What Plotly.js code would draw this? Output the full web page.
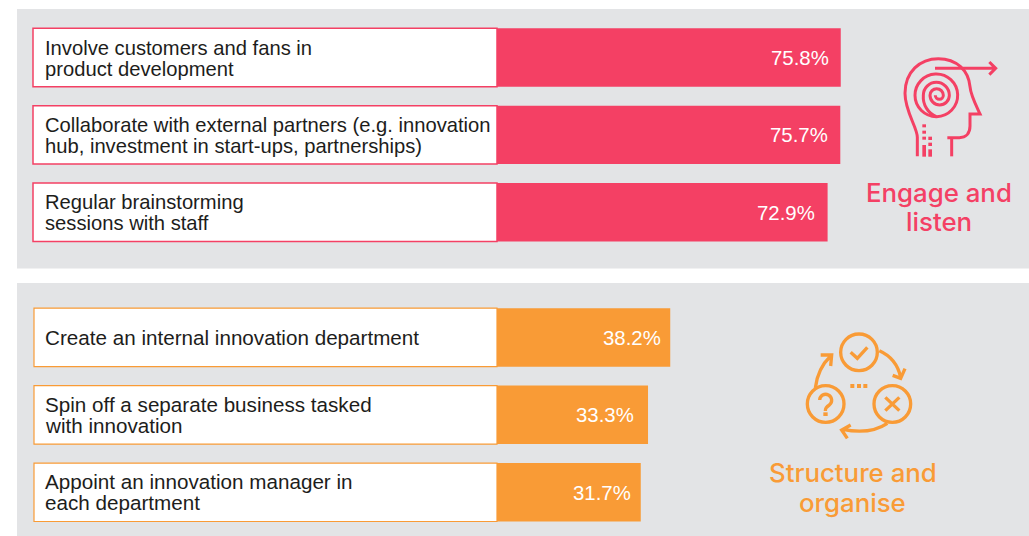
<!DOCTYPE html>
<html>
<head>
<meta charset="utf-8">
<script src="https://cdn.plot.ly/plotly-3.0.1.min.js"></script>
<style>html,body{margin:0;padding:0;background:#fff;overflow:hidden}#chart{width:1029px;height:536px}</style>
</head>
<body>
<div id="chart"></div>
<script>
const engageLabels = [
  ["Involve customers and fans in", "product development"],
  ["Collaborate with external partners (e.g. innovation", "hub, investment in start-ups, partnerships)"],
  ["Regular brainstorming", "sessions with staff"]
];
const engageValues = [75.8, 75.7, 72.9];
const structureLabels = [
  ["Create an internal innovation department"],
  ["Spin off a separate business tasked", "with innovation"],
  ["Appoint an innovation manager in", "each department"]
];
const structureValues = [38.2, 33.3, 31.7];
const engageTitle = ["Engage and", "listen"];
const structureTitle = ["Structure and", "organise"];

const W = 1029, H = 536;
const PINK = "#F44064", ORANGE = "#F99B36", PANEL = "#E3E4E6";
const FONT = "Liberation Sans, Arial, sans-serif";
const pxPerUnit = 4.535, zeroPx = 497;
const xRange = [-zeroPx / pxPerUnit, (W - zeroPx) / pxPerUnit];
const barFrac = 0.755;
const py = p => 1 - p / H, pxf = p => p / W;

const headIcon = `<svg xmlns="http://www.w3.org/2000/svg" width="169" height="130" viewBox="0 0 507 390"><g fill="none" stroke="${PINK}" stroke-width="9">
<path d="M172 349V292C172 262 135 215 135 160C135 95 180 56 235 56C290 56 326 92 330 140C332 165 345 190 360 222H330V258C330 280 318 293 298 293H262"/>
<path d="M275 293V349"/>
<path d="M225 85H405M388 66L407 85L388 104"/>
<path d="M226 102A64 64 0 1 1 165 166A64 64 0 0 1 226 102"/>
<path d="M229 230A64 64 0 0 1 190 166A39 39 0 0 1 268 166A29 29 0 0 1 210 166A20 20 0 0 1 250 166A12 12 0 0 1 226 166"/>
</g><g fill="${PINK}">
<rect x="187" y="253" width="11" height="9"/><rect x="187" y="272" width="11" height="9"/><rect x="187" y="290" width="11" height="9"/><rect x="187" y="315" width="11" height="35"/>
<rect x="205" y="290" width="11" height="10"/><rect x="205" y="308" width="11" height="10"/><rect x="205" y="328" width="11" height="22"/>
</g></svg>`;

const cycleIcon = `<svg xmlns="http://www.w3.org/2000/svg" width="160" height="130" viewBox="0 0 480 390"><g fill="none" stroke="${ORANGE}" stroke-width="10">
<circle cx="237" cy="97" r="55"/><circle cx="137" cy="252" r="55"/><circle cx="337" cy="252" r="55"/>
<path d="M212 97L232 115L262 82"/>
<path d="M316 232L358 272M358 232L316 272"/>
<path d="M119 240A18 18 0 1 1 148 255Q136 262 136 273"/>
<path d="M298 92Q350 115 362 172M338 166L362 175L375 146"/>
<path d="M322 310Q270 345 188 328M212 315L185 330L202 355"/>
<path d="M106 204Q113 145 152 108M122 105L155 105L152 138"/>
</g><g fill="${ORANGE}">
<rect x="130" y="277" width="13" height="11"/>
<rect x="211" y="192" width="12" height="12"/><rect x="231" y="192" width="12" height="12"/><rect x="250" y="192" width="12" height="12"/>
</g></svg>`;
const uri = s => "data:image/svg+xml;charset=utf-8," + encodeURIComponent(s);

const annotations = [];
const shapes = [
  {type:"rect", xref:"paper", yref:"paper", x0:pxf(17), x1:1, y0:py(9), y1:py(268.5), fillcolor:PANEL, line:{width:0}, layer:"below"},
  {type:"rect", xref:"paper", yref:"paper", x0:pxf(17), x1:1, y0:py(283), y1:0, fillcolor:PANEL, line:{width:0}, layer:"below"}
];
function addGroup(labels, values, yaxis, color, lineW, boxPx, textSize, insets, textDrop) {
  labels.forEach((lines, i) => {
    shapes.push({type:"rect", xref:"x", yref:yaxis, x0:-boxPx / pxPerUnit, x1:0, y0:i - barFrac/2, y1:i + barFrac/2,
      fillcolor:"#fff", line:{color:color, width:lineW}, layer:"below"});
    lines.forEach((t, k) => annotations.push({
      xref:"paper", yref:yaxis, x:pxf(42.5), y:i, xanchor:"left", yanchor:"middle", showarrow:false, text:t, align:"left",
      yshift: (lines.length === 1 ? 0 : (k === 0 ? 10.5 : -10.5)) - textDrop,
      font:{family:FONT, size:textSize, color:"#1d1d1b"}
    }));
    annotations.push({xref:"x", yref:yaxis, x:values[i], y:i, xanchor:"right", yanchor:"middle", xshift:-insets[i], yshift:-0.5, showarrow:false,
      text:values[i].toFixed(1) + "%", font:{family:FONT, size:20.4, color:"#fff"}});
  });
}
addGroup(engageLabels, engageValues, "y", PINK, 1.5, 464, 20.2, [10, 10, 10.5], 0.7);
addGroup(structureLabels, structureValues, "y2", ORANGE, 1.2, 463, 20.65, [7, 12, 8], 0);

function addTitle(lines, cx, ys, color) {
  lines.forEach((t, k) => annotations.push({xref:"paper", yref:"paper", x:pxf(cx), y:py(ys[k]), xanchor:"center", yanchor:"middle",
    showarrow:false, text:t, font:{family:"Inter, Liberation Sans, sans-serif", size:25.8, color:color, weight:500}}));
}
addTitle(engageTitle, 939, [193, 221.5], PINK);
addTitle(structureTitle, 852.5, [472, 502], ORANGE);

const yCommon = {type:"linear", range:[2.5,-0.5], visible:false, fixedrange:true};
const idx = a => a.map((_, i) => i);
const traces = [
  {type:"bar", orientation:"h", x:engageValues, y:idx(engageValues), xaxis:"x", yaxis:"y", width:barFrac,
   marker:{color:PINK, line:{width:0}}, hoverinfo:"skip", textposition:"none"},
  {type:"bar", orientation:"h", x:structureValues, y:idx(structureValues), xaxis:"x", yaxis:"y2", width:barFrac,
   marker:{color:ORANGE, line:{width:0}}, hoverinfo:"skip", textposition:"none"}
];
const layout = {
  width:W, height:H, margin:{l:0,r:0,t:0,b:0,pad:0}, paper_bgcolor:"#fff", plot_bgcolor:"rgba(0,0,0,0)",
  showlegend:false, hovermode:false, barmode:"overlay",
  xaxis:{range:xRange, visible:false, fixedrange:true, domain:[0,1]},
  yaxis:Object.assign({domain:[py(250.9), py(18.9)]}, yCommon),
  yaxis2:Object.assign({domain:[py(531), py(298.7)]}, yCommon),
  shapes, annotations,
  images:[
    {source:uri(headIcon), xref:"paper", yref:"paper", x:pxf(860), y:py(40), sizex:169/W, sizey:130/H, xanchor:"left", yanchor:"top", sizing:"stretch", layer:"above"},
    {source:uri(cycleIcon), xref:"paper", yref:"paper", x:pxf(780), y:py(320), sizex:160/W, sizey:130/H, xanchor:"left", yanchor:"top", sizing:"stretch", layer:"above"}
  ]
};
Plotly.newPlot("chart", traces, layout, {displayModeBar:false, staticPlot:true});
</script>
</body>
</html>
